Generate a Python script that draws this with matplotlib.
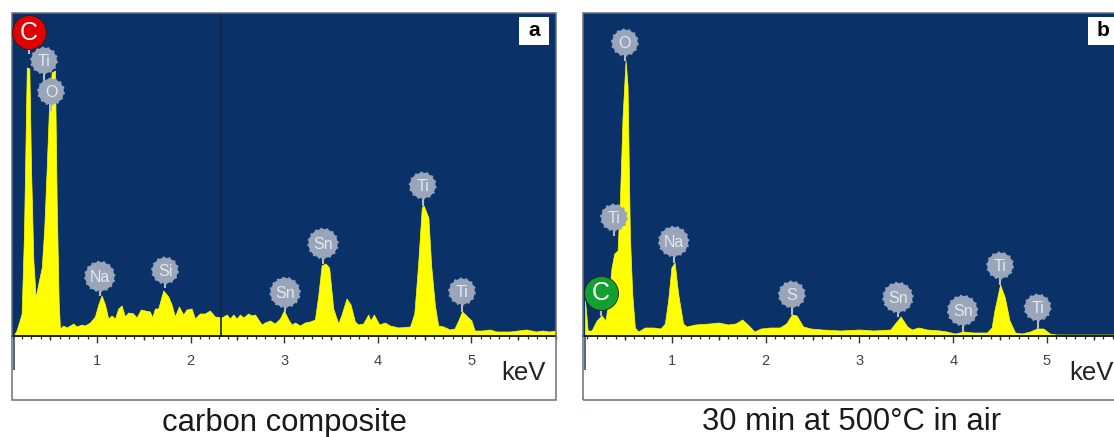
import matplotlib
matplotlib.use('Agg')
import matplotlib.pyplot as plt
from matplotlib.patches import Rectangle
from matplotlib.ticker import MultipleLocator

plt.rcParams['font.family'] = ['Liberation Sans', 'DejaVu Sans']

W, H = 1114, 437
NAVY = '#0a3268'
YELLOW = '#ffff00'
BADGE = '#9aa5b9'

# spectrum a (keV, counts in arbitrary units)
kev_a = [.11, .14, .18, .195, .22, .25, .277, .295, .32, .345, .373, .41, .437, .463, .49, .516, .551, .569, .59,
         .604, .64, .676, .747, .782, .836, .871, .925, .978, 1.014, 1.049, 1.085, 1.12, 1.156, 1.192, 1.227, 1.263,
         1.298, 1.334, 1.387, 1.423, 1.469, 1.512, 1.565, 1.59, 1.619, 1.654, 1.708, 1.761, 1.797, 1.832, 1.875,
         1.921, 1.957, 2.01, 2.046, 2.099, 2.153, 2.206, 2.259, 2.33, 2.35, 2.385, 2.42, 2.456, 2.492, 2.527, 2.563,
         2.616, 2.652, 2.688, 2.723, 2.759, 2.794, 2.848, 2.901, 2.955, 2.997, 3.044, 3.079, 3.115, 3.168, 3.221,
         3.275, 3.328, 3.364, 3.40, 3.44, 3.48, 3.524, 3.577, 3.613, 3.666, 3.709, 3.755, 3.791, 3.844, 3.898,
         3.922, 3.958, 4.015, 4.076, 4.129, 4.22, 4.345, 4.39, 4.43, 4.47, 4.49,
         4.54, 4.57, 4.61, 4.645, 4.70, 4.77, 4.82, 4.86, 4.90, 4.945, 5.0, 5.035, 5.12, 5.195, 5.27, 5.41, 5.585, 5.69,
         5.76, 5.83, 5.90]
counts_a = [0, 5, 17, 22, 102, 268, 267, 168, 75, 38, 52, 68, 108, 168, 235, 263, 265, 135, 35,
            7, 10, 8, 12, 9, 11, 10, 13, 19, 31, 40, 31, 17, 20, 17, 27, 30,
            19, 23, 22, 18, 26, 25, 24, 18, 27, 27, 45, 39, 31, 19, 29,
            21, 26, 27, 17, 22, 22, 25, 19, 18, 19, 21, 17, 21, 17, 21, 18,
            22, 20, 21, 16, 11, 13, 15, 12, 17, 25, 16, 11, 13, 10, 13,
            14, 16, 40, 70, 72, 68, 27, 12, 21, 37, 31, 14, 11, 12, 21,
            15, 21, 11, 13, 10, 8, 9, 22, 70, 128, 130,
            118, 70, 30, 10, 9, 6, 7, 15, 24, 20, 15, 5, 5, 6, 4, 4, 6, 4,
            5, 4, 5]

# spectrum b
kev_b = [.075, .103, .145, .199, .252, .294, .323, .358, .387, .422, .447, .475, .507, .528, .553, .578, .606, .642,
         .713, .8, .88, .926, .961, .996, 1.03, 1.067, 1.12, 1.156, 1.25, 1.4, 1.5, 1.6, 1.68, 1.75, 1.82, 1.88, 1.95,
         2.05, 2.15, 2.22, 2.28, 2.33, 2.4, 2.48, 2.6, 2.8, 3.0, 3.15, 3.33, 3.38, 3.44, 3.51, 3.56, 3.63, 3.72, 3.86,
         3.93, 4.02, 4.11, 4.21, 4.36, 4.41, 4.44, 4.50, 4.55, 4.60, 4.66, 4.73, 4.82, 4.89, 4.96, 5.03, 5.10, 5.5, 5.75]
counts_b = [35, 5, 5, 15, 20, 15, 35, 68, 82, 85, 135, 218, 275, 250, 100, 42, 8, 4,
            8, 8, 7, 12, 35, 68, 73, 42, 12, 9, 11, 12, 13, 11, 12, 16, 10, 4, 7,
            8, 8, 12, 21, 20, 9, 7, 6, 5, 6, 5, 6, 12, 19, 9, 6, 8, 6, 5,
            4, 2, 4, 3, 3, 8, 25, 51, 38, 15, 3, 2, 4, 7, 7, 2, 1, 1, 1]

# element markers: name, keV, marker height, height where the stem ends
names_a = ['Ti', 'O', 'Na', 'Si', 'Sn', 'Sn', 'Ti', 'Ti', 'C']
kev_lab_a = [.434, .509, 1.03, 1.727, 3.01, 3.415, 4.48, 4.90, .27]
y_lab_a = [275, 244, 59, 65, 43, 92, 150, 44, 304]
tip_a = [240, 225, 40, 48, 24, 72, 130, 24, 282]

names_b = ['O', 'Ti', 'Na', 'S', 'Sn', 'Sn', 'Ti', 'Ti', 'C']
kev_lab_b = [.50, .384, 1.02, 2.28, 3.41, 4.10, 4.50, 4.90, .242]
y_lab_b = [293, 118, 94, 41, 38, 25, 70, 28, 43]
tip_b = [275, 100, 73, 21, 19, 4, 51, 7, 20]


def panel(px_left, px_right, px_zero, px_per_kev, kev, counts, names, kev_lab, y_lab, tip,
          letter, letter_px, kev_px, special, caption, cap_px):
    ax = fig.add_axes([px_left / W, 1 - 400 / H, (px_right - px_left) / W, (400 - 13) / H])
    ax.set_xlim((px_left - px_zero) / px_per_kev, (px_right - px_zero) / px_per_kev)
    ax.set_ylim(-64.5, 322.5)
    ax.axhspan(0, 322.5, color=NAVY, lw=0, zorder=0)
    ax.fill_between(kev, 0, counts, color=YELLOW, lw=0.5, zorder=1)
    for s in ['top', 'left', 'right']:
        ax.spines[s].set_visible(False)
    ax.spines['bottom'].set_position(('data', 0))
    ax.spines['bottom'].set_color('#1c1c1c')
    ax.spines['bottom'].set_linewidth(1.4)
    ax.spines['bottom'].set_zorder(3)
    ax.set_yticks([])
    ax.xaxis.set_major_locator(MultipleLocator(1))
    ax.xaxis.set_minor_locator(MultipleLocator(0.1))
    ax.tick_params(axis='x', which='major', length=5, width=1, color='#333333',
                   labelsize=10.5, labelcolor='#444444', pad=8.5)
    ax.tick_params(axis='x', which='minor', length=2.2, width=0.9, color='#333333')
    ax.vlines([.5, 1.5, 2.5, 3.5, 4.5, 5.5], -4.5, 0, color='#333333', lw=1, zorder=2)
    ax.vlines(kev[0], -34, 0, color='#3b4a60', lw=1.2, zorder=2)
    ax.add_patch(Rectangle((0, 0), 1, 1, transform=ax.transAxes, fill=False, ec='#66717f',
                           lw=1.1, clip_on=False, zorder=5))

    # stems then markers
    ax.vlines(kev_lab, tip, y_lab, color='#b4bcc9', lw=1.5, zorder=3)
    for name, x, y in zip(names, kev_lab, y_lab):
        if name == 'C':
            ax.scatter([x], [y], s=600, color=special, edgecolors='#202020', linewidths=0.6, zorder=6)
            ax.text(x, y - 1, name, color='white', fontsize=18, ha='center', va='center', zorder=7)
        else:
            size = 440 if name in ['Na', 'Sn'] else 340
            ax.scatter([x], [y], s=size, color=BADGE, edgecolors=BADGE, linewidths=1.6,
                       linestyle=(0, (1, 1.6)), zorder=4)
            ax.text(x, y - 1, name, color='#e4e8ee', fontsize=11.5, ha='center', va='center', zorder=5)

    ax.text((kev_px - px_zero) / px_per_kev, -37, 'keV', fontsize=18.5, color='#222222',
            ha='center', va='center')
    # letter box, 30 x 28 px
    ax.add_patch(Rectangle(((letter_px - 15 - px_zero) / px_per_kev, 290.5), 30 / px_per_kev, 28,
                           fc='white', ec='none', zorder=6))
    ax.text((letter_px - px_zero) / px_per_kev, 304.5, letter, fontsize=15, fontweight='bold', color='black',
            ha='center', va='center', zorder=7)
    fig.text(cap_px / W, 1 - 422.5 / H, caption, fontsize=22.3, color='#1a1a1a', ha='center', va='center')
    return ax


fig = plt.figure(figsize=(W / 100, H / 100), dpi=100)

ax_a = panel(12, 556, 3.4, 93.6, kev_a, counts_a, names_a, kev_lab_a, y_lab_a, tip_a,
             'a', 534, 523, '#e00000', 'carbon composite', 284)
ax_a.vlines(2.325, 0, 322.5, color='#14233c', lw=1.2, zorder=2)

ax_b = panel(583, 1118, 578, 93.8, kev_b, counts_b, names_b, kev_lab_b, y_lab_b, tip_b,
             'b', 1103, 1091, '#12a030', '30 min at 500°C in air', 852)

fig.savefig('out.png', dpi=100)
